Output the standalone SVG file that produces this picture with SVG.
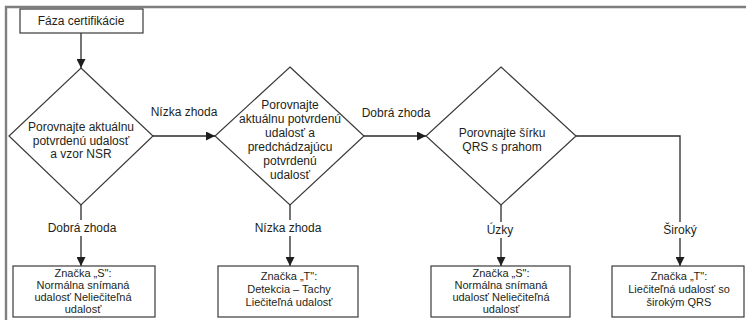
<svg xmlns="http://www.w3.org/2000/svg" width="746" height="320" viewBox="0 0 746 320">
<defs>
<style>
text{font-family:"Liberation Sans",Arial,sans-serif;font-size:12px;fill:#231f20;text-anchor:middle}
.sm{font-size:11px}
.frame{fill:none;stroke:#7f7f7f;stroke-width:2.4}
.box,.dia{fill:#fff;stroke:#3a3a3a;stroke-width:1.2}
.con{fill:none;stroke:#2b2b2b;stroke-width:1.3}
.bg{fill:#fff}
</style>
<marker id="arr" viewBox="0 0 10 10" refX="10" refY="5" markerWidth="9" markerHeight="9" markerUnits="userSpaceOnUse" orient="auto">
<path d="M0,0 L10,5 L0,10 z" fill="#1e1e1e"/>
</marker>
</defs>
<rect width="746" height="320" fill="#fff"/>
<path class="frame" d="M6,320 V7 H746"/>

<g id="connectors">
<path class="con" d="M81,33 V68" marker-end="url(#arr)"/>
<path class="con" d="M153,136 H215" marker-end="url(#arr)"/>
<path class="con" d="M364,136 H426" marker-end="url(#arr)"/>
<path class="con" d="M81,205 V266" marker-end="url(#arr)"/>
<path class="con" d="M290,205 V266" marker-end="url(#arr)"/>
<path class="con" d="M501,205 V266" marker-end="url(#arr)"/>
<path class="con" d="M576,136 H680 V266" marker-end="url(#arr)"/>
</g>

<g id="labels">
<text x="184" y="116">Nízka zhoda</text>
<text x="396" y="117">Dobrá zhoda</text>
<rect class="bg" x="44" y="220" width="76" height="16"/>
<text x="82" y="232">Dobrá zhoda</text>
<rect class="bg" x="254" y="220" width="70" height="16"/>
<text x="288" y="232">Nízka zhoda</text>
<rect class="bg" x="484" y="222" width="34" height="16"/>
<text x="500" y="234">Úzky</text>
<rect class="bg" x="658" y="222" width="44" height="16"/>
<text x="680" y="234">Široký</text>
</g>

<g id="start">
<rect class="box" x="20" y="9" width="123" height="24"/>
<text x="81" y="25">Fáza certifikácie</text>
</g>

<g id="d1">
<polygon class="dia" points="81,68 153,136 81,205 9,136"/>
<text x="81" y="131">Porovnajte aktuálnu</text>
<text x="81" y="145">potvrdenú udalosť</text>
<text x="81" y="158">a vzor NSR</text>
</g>

<g id="d2">
<polygon class="dia" points="290,67 364,136 290,205 215,136"/>
<text x="290" y="109">Porovnajte</text>
<text x="290" y="123">aktuálnu potvrdenú</text>
<text x="290" y="137">udalosť a</text>
<text x="290" y="151">predchádzajúcu</text>
<text x="290" y="165">potvrdenú</text>
<text x="290" y="179">udalosť</text>
</g>

<g id="d3">
<polygon class="dia" points="501,67 576,136 501,205 426,136"/>
<text x="502" y="137">Porovnajte šírku</text>
<text x="502" y="151">QRS s prahom</text>
</g>

<g id="b1">
<rect class="box" x="13" y="266" width="142" height="51"/>
<text class="sm" x="83" y="277">Značka „S":</text>
<text class="sm" x="83" y="289">Normálna snímaná</text>
<text class="sm" x="83" y="301">udalosť Neliečiteľná</text>
<text class="sm" x="83" y="313">udalosť</text>
</g>

<g id="b2">
<rect class="box" x="218" y="266" width="140" height="51"/>
<text class="sm" x="289" y="280">Značka „T":</text>
<text class="sm" x="289" y="293">Detekcia – Tachy</text>
<text class="sm" x="289" y="306">Liečiteľná udalosť</text>
</g>

<g id="b3">
<rect class="box" x="431" y="266" width="139" height="51"/>
<text class="sm" x="501" y="277">Značka „S":</text>
<text class="sm" x="501" y="289">Normálna snímaná</text>
<text class="sm" x="501" y="301">udalosť Neliečiteľná</text>
<text class="sm" x="501" y="313">udalosť</text>
</g>

<g id="b4">
<rect class="box" x="612" y="266" width="132" height="51"/>
<text class="sm" x="679" y="280">Značka „T":</text>
<text class="sm" x="679" y="293">Liečiteľná udalosť so</text>
<text class="sm" x="679" y="306">širokým QRS</text>
</g>
</svg>
